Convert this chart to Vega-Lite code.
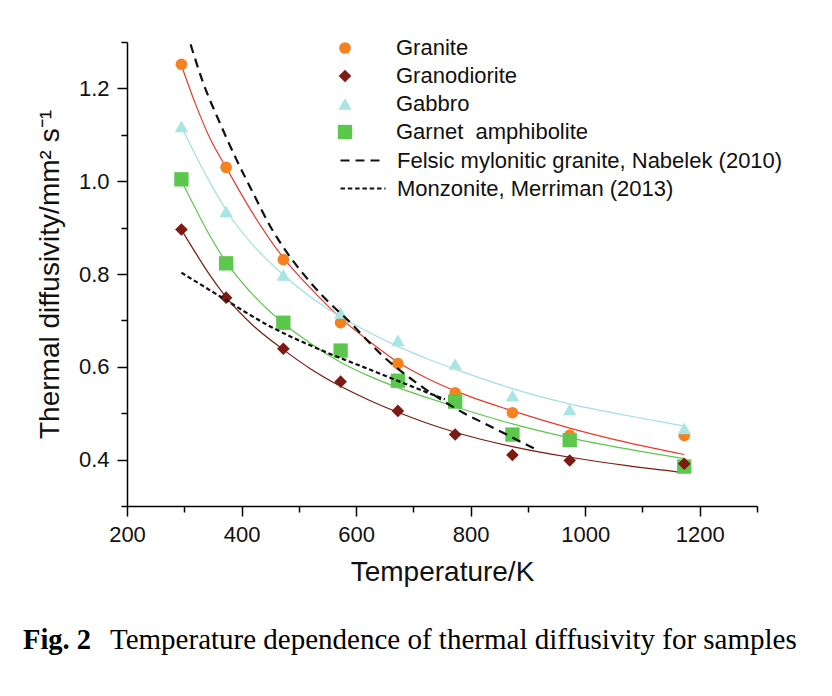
{
  "$schema": "https://vega.github.io/schema/vega-lite/v6.json",
  "width": 630,
  "height": 464,
  "autosize": {"type": "none"},
  "padding": {"left": 127, "top": 42, "right": 75, "bottom": 190},
  "background": "white",
  "config": {
    "view": {"stroke": null},
    "axis": {
      "domainColor": "black", "domainWidth": 1.5, "tickColor": "black", "tickWidth": 1.5,
      "labelFont": "Liberation Sans", "labelFontSize": 22, "labelColor": "#111",
      "titleFont": "Liberation Sans", "titleFontSize": 28, "titleFontWeight": "normal", "titleColor": "#111",
      "grid": false
    },
    "legend": {"labelFont": "Liberation Sans", "labelFontSize": 22, "labelColor": "#111", "padding": 0, "labelLimit": 600}
  },
  "title": {
    "text": "Fig. 2",
    "subtitle": "\u200b\u00a0\u00a0\u00a0\u00a0\u00a0\u00a0\u00a0\u00a0\u00a0\u00a0\u00a0\u00a0Temperature dependence of thermal diffusivity for samples",
    "orient": "bottom", "anchor": "start", "frame": "group", "dx": -104, "offset": 40,
    "font": "Liberation Serif", "fontSize": 28.5, "fontWeight": "bold", "color": "black",
    "subtitleFont": "Liberation Serif", "subtitleFontSize": 29, "subtitleFontWeight": "normal", "subtitleColor": "black",
    "subtitlePadding": -28.5
  },
  "datasets": {
    "points": [
      {"sample": "Granite", "T": 295, "v": 1.252}, {"sample": "Granite", "T": 373, "v": 1.03}, {"sample": "Granite", "T": 473, "v": 0.831},
      {"sample": "Granite", "T": 573, "v": 0.695}, {"sample": "Granite", "T": 673, "v": 0.607}, {"sample": "Granite", "T": 773, "v": 0.544},
      {"sample": "Granite", "T": 873, "v": 0.501}, {"sample": "Granite", "T": 973, "v": 0.452}, {"sample": "Granite", "T": 1173, "v": 0.452},
      {"sample": "Gabbro", "T": 295, "v": 1.118}, {"sample": "Gabbro", "T": 373, "v": 0.935}, {"sample": "Gabbro", "T": 473, "v": 0.798},
      {"sample": "Gabbro", "T": 573, "v": 0.716}, {"sample": "Gabbro", "T": 673, "v": 0.657}, {"sample": "Gabbro", "T": 773, "v": 0.606},
      {"sample": "Gabbro", "T": 873, "v": 0.538}, {"sample": "Gabbro", "T": 973, "v": 0.508}, {"sample": "Gabbro", "T": 1173, "v": 0.467},
      {"sample": "Garnet\u00a0 amphibolite", "T": 295, "v": 1.004}, {"sample": "Garnet\u00a0 amphibolite", "T": 373, "v": 0.823}, {"sample": "Garnet\u00a0 amphibolite", "T": 473, "v": 0.695},
      {"sample": "Garnet\u00a0 amphibolite", "T": 573, "v": 0.635}, {"sample": "Garnet\u00a0 amphibolite", "T": 673, "v": 0.57}, {"sample": "Garnet\u00a0 amphibolite", "T": 773, "v": 0.525},
      {"sample": "Garnet\u00a0 amphibolite", "T": 873, "v": 0.454}, {"sample": "Garnet\u00a0 amphibolite", "T": 973, "v": 0.442}, {"sample": "Garnet\u00a0 amphibolite", "T": 1173, "v": 0.385},
      {"sample": "Granodiorite", "T": 295, "v": 0.896}, {"sample": "Granodiorite", "T": 373, "v": 0.749}, {"sample": "Granodiorite", "T": 473, "v": 0.639},
      {"sample": "Granodiorite", "T": 573, "v": 0.568}, {"sample": "Granodiorite", "T": 673, "v": 0.505}, {"sample": "Granodiorite", "T": 773, "v": 0.454},
      {"sample": "Granodiorite", "T": 873, "v": 0.41}, {"sample": "Granodiorite", "T": 973, "v": 0.398}, {"sample": "Granodiorite", "T": 1173, "v": 0.391}
    ],
    "fits": [
      {"fit": "Granite", "T": 295, "v": 1.25}, {"fit": "Granite", "T": 320, "v": 1.165}, {"fit": "Granite", "T": 345, "v": 1.092}, {"fit": "Granite", "T": 373, "v": 1.03},
      {"fit": "Granite", "T": 420, "v": 0.93}, {"fit": "Granite", "T": 473, "v": 0.835}, {"fit": "Granite", "T": 520, "v": 0.77}, {"fit": "Granite", "T": 573, "v": 0.705},
      {"fit": "Granite", "T": 623, "v": 0.655}, {"fit": "Granite", "T": 673, "v": 0.61}, {"fit": "Granite", "T": 723, "v": 0.576}, {"fit": "Granite", "T": 773, "v": 0.548},
      {"fit": "Granite", "T": 873, "v": 0.505}, {"fit": "Granite", "T": 973, "v": 0.468}, {"fit": "Granite", "T": 1073, "v": 0.437}, {"fit": "Granite", "T": 1173, "v": 0.411},
      {"fit": "Granodiorite", "T": 295, "v": 0.895}, {"fit": "Granodiorite", "T": 320, "v": 0.845}, {"fit": "Granodiorite", "T": 345, "v": 0.797}, {"fit": "Granodiorite", "T": 373, "v": 0.75},
      {"fit": "Granodiorite", "T": 420, "v": 0.689}, {"fit": "Granodiorite", "T": 473, "v": 0.637}, {"fit": "Granodiorite", "T": 520, "v": 0.596}, {"fit": "Granodiorite", "T": 573, "v": 0.558},
      {"fit": "Granodiorite", "T": 623, "v": 0.528}, {"fit": "Granodiorite", "T": 673, "v": 0.502}, {"fit": "Granodiorite", "T": 723, "v": 0.479}, {"fit": "Granodiorite", "T": 773, "v": 0.459},
      {"fit": "Granodiorite", "T": 873, "v": 0.428}, {"fit": "Granodiorite", "T": 973, "v": 0.405}, {"fit": "Granodiorite", "T": 1073, "v": 0.387}, {"fit": "Granodiorite", "T": 1173, "v": 0.372},
      {"fit": "Gabbro", "T": 295, "v": 1.118}, {"fit": "Gabbro", "T": 320, "v": 1.055}, {"fit": "Gabbro", "T": 345, "v": 0.997}, {"fit": "Gabbro", "T": 373, "v": 0.938},
      {"fit": "Gabbro", "T": 420, "v": 0.862}, {"fit": "Gabbro", "T": 473, "v": 0.798}, {"fit": "Gabbro", "T": 520, "v": 0.751}, {"fit": "Gabbro", "T": 573, "v": 0.708},
      {"fit": "Gabbro", "T": 623, "v": 0.674}, {"fit": "Gabbro", "T": 673, "v": 0.644}, {"fit": "Gabbro", "T": 723, "v": 0.618}, {"fit": "Gabbro", "T": 773, "v": 0.595},
      {"fit": "Gabbro", "T": 873, "v": 0.553}, {"fit": "Gabbro", "T": 973, "v": 0.52}, {"fit": "Gabbro", "T": 1073, "v": 0.495}, {"fit": "Gabbro", "T": 1173, "v": 0.472},
      {"fit": "Garnet", "T": 295, "v": 1.0}, {"fit": "Garnet", "T": 320, "v": 0.94}, {"fit": "Garnet", "T": 345, "v": 0.882}, {"fit": "Garnet", "T": 373, "v": 0.826},
      {"fit": "Garnet", "T": 420, "v": 0.755}, {"fit": "Garnet", "T": 473, "v": 0.694}, {"fit": "Garnet", "T": 520, "v": 0.651}, {"fit": "Garnet", "T": 573, "v": 0.61},
      {"fit": "Garnet", "T": 623, "v": 0.58}, {"fit": "Garnet", "T": 673, "v": 0.555}, {"fit": "Garnet", "T": 723, "v": 0.534}, {"fit": "Garnet", "T": 773, "v": 0.514},
      {"fit": "Garnet", "T": 873, "v": 0.477}, {"fit": "Garnet", "T": 973, "v": 0.447}, {"fit": "Garnet", "T": 1073, "v": 0.423}, {"fit": "Garnet", "T": 1173, "v": 0.402}
    ],
    "nabelek": [
      {"ref": "Felsic mylonitic granite, Nabelek (2010)", "T": 311, "v": 1.295}, {"ref": "Felsic mylonitic granite, Nabelek (2010)", "T": 333, "v": 1.212},
      {"ref": "Felsic mylonitic granite, Nabelek (2010)", "T": 362, "v": 1.126}, {"ref": "Felsic mylonitic granite, Nabelek (2010)", "T": 391, "v": 1.047},
      {"ref": "Felsic mylonitic granite, Nabelek (2010)", "T": 420, "v": 0.975}, {"ref": "Felsic mylonitic granite, Nabelek (2010)", "T": 450, "v": 0.903},
      {"ref": "Felsic mylonitic granite, Nabelek (2010)", "T": 480, "v": 0.845}, {"ref": "Felsic mylonitic granite, Nabelek (2010)", "T": 516, "v": 0.788},
      {"ref": "Felsic mylonitic granite, Nabelek (2010)", "T": 542, "v": 0.752}, {"ref": "Felsic mylonitic granite, Nabelek (2010)", "T": 586, "v": 0.7},
      {"ref": "Felsic mylonitic granite, Nabelek (2010)", "T": 647, "v": 0.623}, {"ref": "Felsic mylonitic granite, Nabelek (2010)", "T": 706, "v": 0.565},
      {"ref": "Felsic mylonitic granite, Nabelek (2010)", "T": 787, "v": 0.501}, {"ref": "Felsic mylonitic granite, Nabelek (2010)", "T": 834, "v": 0.472},
      {"ref": "Felsic mylonitic granite, Nabelek (2010)", "T": 903, "v": 0.429}, {"ref": "Felsic mylonitic granite, Nabelek (2010)", "T": 915, "v": 0.422}
    ],
    "merriman": [
      {"ref": "Monzonite, Merriman (2013)", "T": 295, "v": 0.803}, {"ref": "Monzonite, Merriman (2013)", "T": 362, "v": 0.752},
      {"ref": "Monzonite, Merriman (2013)", "T": 450, "v": 0.687}, {"ref": "Monzonite, Merriman (2013)", "T": 537, "v": 0.637},
      {"ref": "Monzonite, Merriman (2013)", "T": 624, "v": 0.594}, {"ref": "Monzonite, Merriman (2013)", "T": 711, "v": 0.551},
      {"ref": "Monzonite, Merriman (2013)", "T": 755, "v": 0.53}
    ]
  },
  "encoding": {
    "x": {"field": "T", "type": "quantitative", "scale": {"domain": [200, 1300], "nice": false},
      "axis": {"title": "Temperature/K", "values": [200, 300, 400, 500, 600, 700, 800, 900, 1000, 1100, 1200, 1300],
        "labelExpr": "datum.value % 200 == 0 ? format(datum.value, 'd') : ''",
        "tickSize": {"condition": {"test": "datum.value % 200 == 0", "value": 10}, "value": 6},
        "labelPadding": 8, "titlePadding": 13, "labelFlush": false}},
    "y": {"field": "v", "type": "quantitative", "scale": {"domain": [0.3, 1.3], "nice": false, "zero": false},
      "axis": {"title": "Thermal diffusivity/mm\u00b2 s\u207b\u00b9", "values": [0.3, 0.4, 0.5, 0.6, 0.7, 0.8, 0.9, 1.0, 1.1, 1.2, 1.3],
        "labelExpr": "round(datum.value*10) % 2 == 0 ? format(datum.value, '.1f') : ''",
        "tickSize": {"condition": {"test": "round(datum.value*10) % 2 == 0", "value": 10}, "value": 6},
        "labelPadding": 8, "titlePadding": 14, "labelFlush": false}}
  },
  "layer": [
    {
      "data": {"name": "fits"},
      "mark": {"type": "line", "strokeWidth": 1.2, "interpolate": "monotone"},
      "encoding": {
        "detail": {"field": "fit"},
        "stroke": {"field": "fit", "type": "nominal", "legend": null,
          "scale": {"domain": ["Granite", "Granodiorite", "Gabbro", "Garnet"], "range": ["#e83a2c", "#7c1a13", "#9fe2de", "#5cc84c"]}}
      }
    },
    {
      "data": {"name": "points"},
      "mark": {"type": "point", "filled": true, "opacity": 1},
      "encoding": {
        "fill": {"field": "sample", "type": "nominal",
          "scale": {"domain": ["Granite", "Granodiorite", "Gabbro", "Garnet\u00a0 amphibolite"], "range": ["#f5821f", "#7d1a13", "#a9e6e3", "#5bc74c"]},
          "legend": {"title": null, "orient": "none", "legendX": 207, "legendY": -5, "labelOffset": 40, "rowPadding": 6, "symbolOpacity": 1}},
        "shape": {"field": "sample", "type": "nominal",
          "scale": {"domain": ["Granite", "Granodiorite", "Gabbro", "Garnet\u00a0 amphibolite"], "range": ["circle", "diamond", "triangle-up", "square"]}},
        "size": {"field": "sample", "type": "nominal",
          "scale": {"domain": ["Granite", "Granodiorite", "Gabbro", "Garnet\u00a0 amphibolite"], "range": [137, 205, 200, 160]}}
      }
    },
    {
      "data": {"name": "nabelek"},
      "mark": {"type": "line", "strokeWidth": 2.2, "color": "#111", "interpolate": "monotone"},
      "encoding": {
        "strokeDash": {"field": "ref", "type": "nominal",
          "scale": {"domain": ["Felsic mylonitic granite, Nabelek (2010)"], "range": [[9, 6]]},
          "legend": {"title": null, "orient": "none", "legendX": 212, "legendY": 94.5, "symbolType": "stroke", "symbolSize": 2025,
            "symbolStrokeWidth": 2.2, "symbolStrokeColor": "#111", "labelOffset": 10}}
      }
    },
    {
      "data": {"name": "merriman"},
      "mark": {"type": "line", "strokeWidth": 2.2, "color": "#111", "strokeDash": [4.5, 2.8], "interpolate": "monotone"},
      "encoding": {
        "opacity": {"field": "ref", "type": "nominal",
          "scale": {"domain": ["Monzonite, Merriman (2013)"], "range": [1]},
          "legend": {"title": null, "orient": "none", "legendX": 212, "legendY": 122.5, "symbolType": "stroke", "symbolSize": 2025,
            "symbolStrokeWidth": 2.2, "symbolStrokeColor": "#111", "symbolDash": [4.5, 2.8], "labelOffset": 10}}
      }
    }
  ]
}
